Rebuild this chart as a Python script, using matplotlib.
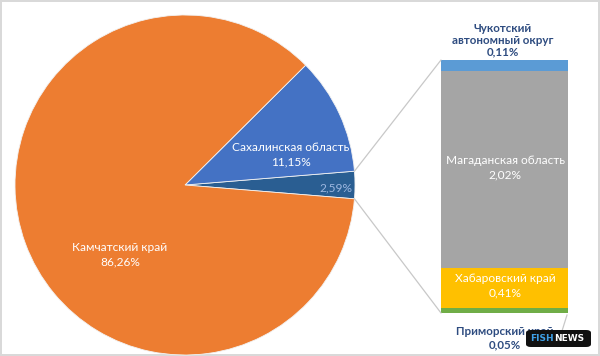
import numpy as np
import matplotlib
matplotlib.use("Agg")
import matplotlib.pyplot as plt
from matplotlib.patches import ConnectionPatch, FancyBboxPatch

plt.rcParams['font.family'] = ['Lato', 'DejaVu Sans']

# pie: rest of regions grouped into "other"
pie_labels = ['', 'Сахалинская область', 'Камчатский край']
pie_values = [2.59, 11.15, 86.26]
pie_colors = ['#2A5E92', '#4472C4', '#ED7D31']

# bar: breakdown of the 2,59% slice (bottom to top)
bar_labels = ['Приморский край', 'Хабаровский край', 'Магаданская область',
              'Чукотский\nавтономный округ']
bar_values = [0.05, 0.41, 2.02, 0.11]
bar_colors = ['#70AD47', '#FFC000', '#A5A5A5', '#5B9BD5']

W, H = 600, 356


def fx(px):
    return px / W


def fy(py):
    return 1 - py / H


def pct(v):
    return f'{v:.2f}%'.replace('.', ',')


fig = plt.figure(figsize=(6, 3.56), dpi=100)
fig.patch.set_facecolor('white')
fig.patch.set_edgecolor('#D9D9D9')
fig.patch.set_linewidth(1.5)

# ---- pie ---------------------------------------------------------------
cx, cy, r = 185, 185, 170
ax_pie = fig.add_axes([fx(cx - r), fy(cy + r), 2 * r / W, 2 * r / H])
start = -pie_values[0] / sum(pie_values) * 360 / 2
wedges, _ = ax_pie.pie(pie_values, colors=pie_colors, startangle=start,
                       counterclock=True, radius=1,
                       wedgeprops=dict(linewidth=0.6, edgecolor='#F2F2F2'))
ax_pie.set_xlim(-1, 1)
ax_pie.set_ylim(-1, 1)
ax_pie.axis('off')

# ---- bar ---------------------------------------------------------------
bx0, bx1, by0, by1 = 441, 568, 60, 313
ax_bar = fig.add_axes([fx(bx0), fy(by1), (bx1 - bx0) / W, (by1 - by0) / H])
bottom = 0
for v, c in zip(bar_values, bar_colors):
    ax_bar.bar(0, v, width=1, bottom=bottom, color=c, linewidth=0)
    bottom += v
ax_bar.set_xlim(-0.5, 0.5)
ax_bar.set_ylim(0, sum(bar_values))
ax_bar.axis('off')

# connector lines
theta = np.deg2rad(pie_values[0] / sum(pie_values) * 360 / 2)
for sgn, yb in [(1, sum(bar_values)), (-1, 0)]:
    con = ConnectionPatch(xyA=(np.cos(theta), sgn * np.sin(theta)), coordsA=ax_pie.transData,
                          xyB=(-0.5, yb), coordsB=ax_bar.transData,
                          color='#C8C8C8', linewidth=0.9)
    fig.add_artist(con)

# ---- labels ------------------------------------------------------------
fs = 8.6
fig.text(fx(291), fy(155), f'{pie_labels[1]}\n{pct(pie_values[1])}',
         ha='center', va='center', color='white', fontsize=fs, linespacing=1.35)
fig.text(fx(120), fy(255), f'{pie_labels[2]}\n{pct(pie_values[2])}',
         ha='center', va='center', color='white', fontsize=fs, linespacing=1.35)
fig.text(fx(336), fy(188), pct(pie_values[0]),
         ha='center', va='center', color='#9DB7E0', fontsize=fs)

fig.text(fx(505), fy(168), f'{bar_labels[2]}\n{pct(bar_values[2])}',
         ha='center', va='center', color='white', fontsize=fs, linespacing=1.35)
fig.text(fx(505), fy(286), f'{bar_labels[1]}\n{pct(bar_values[1])}',
         ha='center', va='center', color='white', fontsize=fs, linespacing=1.35)
fig.text(fx(503), fy(40), f'{bar_labels[3]}\n{pct(bar_values[3])}',
         ha='center', va='center', color='#2E4C80', fontsize=8.3, fontweight='bold',
         linespacing=1.1)
fig.text(fx(505), fy(338), f'{bar_labels[0]}\n{pct(bar_values[0])}',
         ha='center', va='center', color='#2E4C80', fontsize=8.3, fontweight='bold',
         linespacing=1.2)

# leader line for the thin green segment
fig.add_artist(plt.Line2D([fx(567), fx(562)], [fy(315), fy(331)],
                          color='#C8C8C8', linewidth=0.9))

# ---- watermark ---------------------------------------------------------
box = FancyBboxPatch((fx(526), fy(347)), fx(65), 17 / H,
                     boxstyle='round,pad=0,rounding_size=0.008',
                     transform=fig.transFigure, facecolor='#111111',
                     edgecolor='none', zorder=5)
fig.add_artist(box)
fig.text(fx(554), fy(338.5), 'FISH', ha='right', va='center', color='#3FA0E6',
         fontsize=6.5, fontweight='bold', zorder=6, family=['DejaVu Sans'])
fig.text(fx(554), fy(338.5), 'NEWS', ha='left', va='center', color='white',
         fontsize=6.5, fontweight='bold', zorder=6, family=['DejaVu Sans'])

fig.savefig('out.png', dpi=100)
